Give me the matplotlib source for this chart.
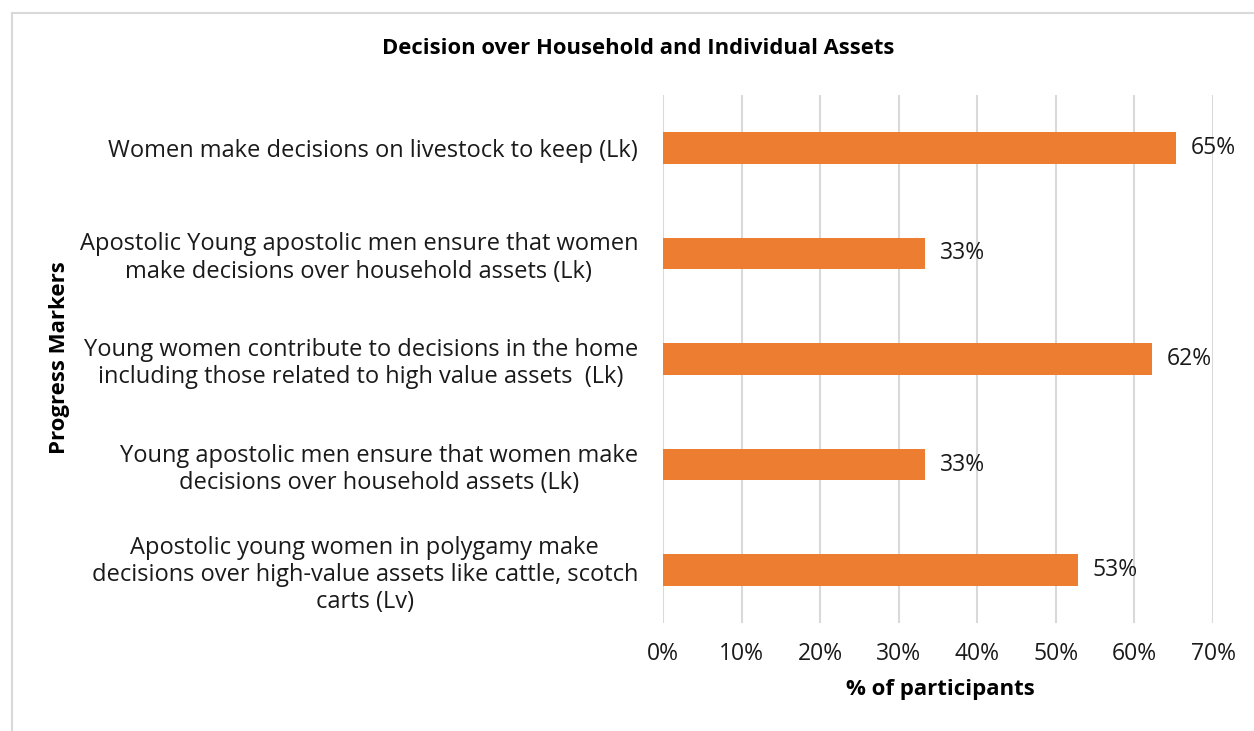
import matplotlib
matplotlib.use("Agg")
import matplotlib.pyplot as plt
from matplotlib.patches import Rectangle

plt.rcParams['font.family'] = ['Open Sans', 'DejaVu Sans']

categories = [
    "Women make decisions on livestock to keep (Lk)",
    "Apostolic Young apostolic men ensure that women\nmake decisions over household assets (Lk)",
    "Young women contribute to decisions in the home\nincluding those related to high value assets  (Lk)",
    "Young apostolic men ensure that women make\ndecisions over household assets (Lk)",
    "Apostolic young women in polygamy make\ndecisions over high-value assets like cattle, scotch\ncarts (Lv)",
]
values = [65.3, 33.3, 62.2, 33.3, 52.8]
xticks = [0, 10, 20, 30, 40, 50, 60, 70]
title = "Decision over Household and Individual Assets"
xlabel = "% of participants"
ylabel = "Progress Markers"

W, H = 1254, 731
fig = plt.figure(figsize=(W / 100, H / 100), dpi=100)
ax = fig.add_axes([663 / W, 1 - 623 / H, (1213 - 663) / W, (623 - 95) / H])

ypos = list(range(len(categories)))
ax.barh(ypos, values, height=0.3, color='#ED7D31', zorder=3)
ax.set_ylim(len(categories) - 0.5, -0.5)
ax.set_xlim(0, 70)
ax.set_yticks(ypos)
ax.set_yticklabels(categories, fontsize=17, color='#1a1a1a', multialignment='center', linespacing=1.18)
ax.set_xticks(xticks)
ax.set_xticklabels([f"{t}%" for t in xticks], fontsize=16.5, color='#1a1a1a')
ax.tick_params(axis='y', length=0, pad=18)
ax.tick_params(axis='x', length=0, pad=14)
for s in ax.spines.values():
    s.set_visible(False)
ax.grid(axis='x', color='#d9d9d9', linewidth=1.5, zorder=0)
ax.set_axisbelow(True)

for y, v in zip(ypos, values):
    ax.text(v + 1.9, y, f"{v:.0f}%", va='center', ha='left', fontsize=16.5, color='#1a1a1a')

fig.text(638 / W, 1 - 48 / H, title, ha='center', va='center', fontsize=15.8, fontweight='bold')
fig.text(940 / W, 1 - 690 / H, xlabel, ha='center', va='center', fontsize=16, fontweight='bold')
fig.text(60 / W, 1 - 358 / H, ylabel, ha='center', va='center', fontsize=16, fontweight='bold', rotation=90)

fig.patches.append(Rectangle((12 / W, -0.01), (W + 10) / W, (H - 13) / H + 0.01,
                             transform=fig.transFigure, fill=False, edgecolor='#d9d9d9', linewidth=1.5))

fig.savefig("out.png", dpi=100)
